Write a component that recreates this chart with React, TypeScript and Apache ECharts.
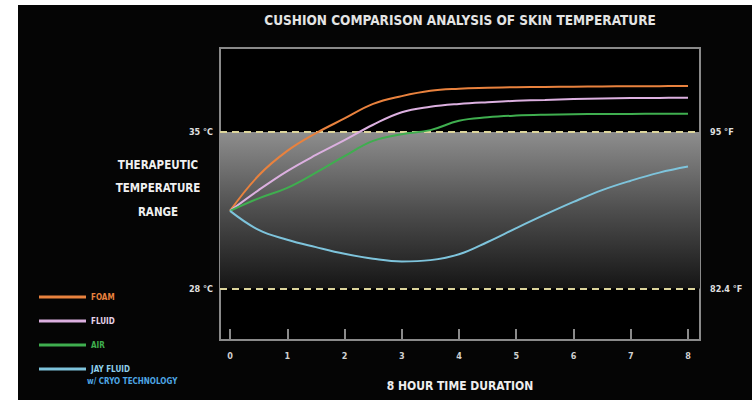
import React, { useEffect, useRef } from "react";
import * as echarts from "echarts";

const hourTicks = [0, 1, 2, 3, 4, 5, 6, 7, 8];
const celsiusMarks = [28, 35];
const fahrenheitMarks = [82.4, 95];

const hours = [0, 0.5, 1, 1.5, 2, 2.5, 3, 3.5, 4, 4.5, 5, 5.5, 6, 6.5, 7, 7.5, 8];
const foamTemps = [31.47, 33.05, 34.15, 34.94, 35.6, 36.25, 36.6, 36.84, 36.93, 36.97, 37.0, 37.01, 37.02, 37.03, 37.04, 37.045, 37.05];
const fluidTemps = [31.47, 32.4, 33.25, 33.97, 34.63, 35.32, 35.88, 36.12, 36.25, 36.33, 36.39, 36.43, 36.47, 36.49, 36.51, 36.52, 36.53];
const airTemps = [31.47, 32.03, 32.5, 33.18, 33.92, 34.6, 34.9, 35.08, 35.5, 35.65, 35.73, 35.77, 35.79, 35.8, 35.805, 35.81, 35.81];
const jayTemps = [31.47, 30.62, 30.18, 29.85, 29.55, 29.33, 29.21, 29.27, 29.53, 30.08, 30.7, 31.3, 31.87, 32.4, 32.82, 33.18, 33.45];

const seriesNames = ["FOAM", "FLUID", "AIR", "JAY FLUID"];
const seriesColors = ["#e9823e", "#dcb0e0", "#3fae4f", "#7ec4dc"];

const FONT = "'Liberation Sans Narrow','DejaVu Sans Condensed',Roboto,sans-serif";
const C_MIN = 25.7;
const C_MAX = 38.75;
const toF = (c: number) => c * 1.8 + 32;

const pair = (xs: number[], ys: number[]) => xs.map((x, i) => [x, ys[i]]);

export default function App() {
  const ref = useRef<HTMLDivElement>(null);
  useEffect(() => {
    if (!ref.current) return;
    const chart = echarts.init(ref.current, null, { renderer: "svg" });
    const datasets = [
      pair(hours, foamTemps),
      pair(hours, fluidTemps),
      pair(hours, airTemps),
      pair(hours, jayTemps),
    ];
    const series: any[] = datasets.map((d, i) => ({
      name: seriesNames[i],
      type: "line",
      data: d,
      smooth: 0.4,
      showSymbol: false,
      symbol: "none",
      color: seriesColors[i],
      lineStyle: { color: seriesColors[i], width: 2 },
      z: 5,
    }));
    series[0].markArea = {
      silent: true,
      itemStyle: {
        color: new echarts.graphic.LinearGradient(0, 0, 0, 1, [
          { offset: 0, color: "#8e8e8e" },
          { offset: 0.5, color: "#4e4e4e" },
          { offset: 1, color: "#151515" },
        ]),
      },
      data: [[{ yAxis: celsiusMarks[0] }, { yAxis: celsiusMarks[1] }]],
    };
    series[0].markLine = {
      silent: true,
      symbol: "none",
      label: { show: false },
      lineStyle: { color: "#dcd59c", width: 2, type: [7, 5] },
      data: celsiusMarks.map((v) => ({ yAxis: v })),
    };

    chart.setOption({
      animation: false,
      backgroundColor: "transparent",
      grid: {
        show: true,
        left: 220,
        right: 52,
        top: 48,
        bottom: 60,
        borderColor: "#8a8a8a",
        borderWidth: 2,
        backgroundColor: "#000",
      },
      legend: {
        orient: "vertical",
        left: 34,
        top: 286,
        icon: "rect",
        itemWidth: 47,
        itemHeight: 3,
        itemGap: 12,
        textStyle: { fontFamily: FONT, fontSize: 8, fontWeight: "bold", lineHeight: 12 },
        data: seriesNames.map((n, i) => ({
          name: n,
          textStyle: { color: i === 1 ? "#e6d4ea" : i === 3 ? "#8fd0ec" : seriesColors[i] },
        })),
        selectedMode: false,
      },
      xAxis: {
        type: "value",
        min: -0.175,
        max: 8.21,
        name: "8 HOUR TIME DURATION",
        nameLocation: "middle",
        nameGap: 40,
        nameTextStyle: { color: "#eeeeee", fontFamily: FONT, fontSize: 12, fontWeight: "bold" },
        axisLine: { show: false },
        splitLine: { show: false },
        axisTick: {
          show: true,
          inside: true,
          length: 11,
          customValues: hourTicks,
          lineStyle: { color: "#8a8a8a", width: 2 },
        },
        axisLabel: {
          customValues: hourTicks,
          color: "#d0d0d0",
          fontFamily: FONT,
          fontSize: 9,
          fontWeight: "bold",
          margin: 11,
        },
      },
      yAxis: [
        {
          type: "value",
          min: C_MIN,
          max: C_MAX,
          position: "left",
          axisLine: { show: false },
          axisTick: { show: false },
          splitLine: { show: false },
          axisLabel: {
            customValues: celsiusMarks,
            formatter: (v: number) => `${v} °C`,
            color: "#e0e0e0",
            fontFamily: FONT,
            fontSize: 9,
            fontWeight: "bold",
            margin: 7,
          },
        },
        {
          type: "value",
          min: toF(C_MIN),
          max: toF(C_MAX),
          position: "right",
          axisLine: { show: false },
          axisTick: { show: false },
          splitLine: { show: false },
          axisLabel: {
            customValues: fahrenheitMarks,
            formatter: (v: number) => `${v} °F`,
            color: "#e0e0e0",
            fontFamily: FONT,
            fontSize: 9,
            fontWeight: "bold",
            margin: 10,
          },
        },
      ],
      graphic: [
        {
          type: "text",
          x: 460,
          y: 20,
          style: {
            text: "CUSHION COMPARISON ANALYSIS OF SKIN TEMPERATURE",
            fill: "#e4e4e4",
            font: `bold 13.5px ${FONT}`,
            align: "center",
            verticalAlign: "middle",
          },
        },
        {
          type: "text",
          x: 158,
          y: 188,
          style: {
            text: "THERAPEUTIC\nTEMPERATURE\nRANGE",
            fill: "#f0f0f0",
            font: `bold 11.5px ${FONT}`,
            lineHeight: 23.5,
            align: "center",
            verticalAlign: "middle",
          },
        },
        {
          type: "text",
          x: 87,
          y: 381,
          style: {
            text: "w/ CRYO TECHNOLOGY",
            fill: "#4ea6e4",
            font: `bold 8px ${FONT}`,
            align: "left",
            verticalAlign: "middle",
          },
        },
      ],
      series,
    });
    return () => chart.dispose();
  }, []);

  return (
    <div style={{ position: "fixed", left: 0, top: 0, width: 752, height: 400, background: "#fff" }}>
      <div style={{ position: "absolute", left: 18, top: 5, right: 0, bottom: 0, background: "#050505" }} />
      <div ref={ref} style={{ position: "absolute", left: 0, top: 0, width: 752, height: 400 }} />
    </div>
  );
}
